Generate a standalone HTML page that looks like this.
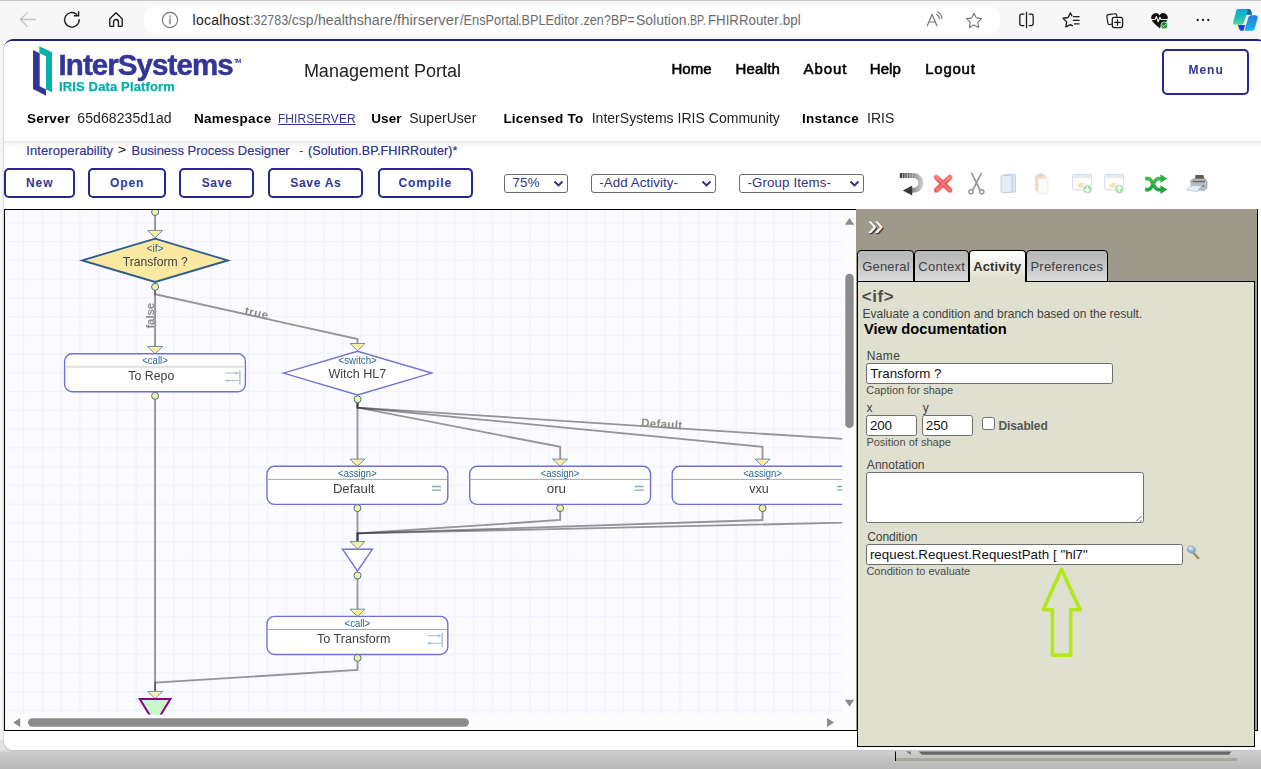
<!DOCTYPE html>
<html>
<head>
<meta charset="utf-8">
<title>Business Process Designer</title>
<style>
*{box-sizing:border-box;margin:0;padding:0}
html,body{width:1261px;height:769px;overflow:hidden}
body{font-family:"Liberation Sans",sans-serif;background:#f7f7f7;position:relative;color:#000}
.t{position:absolute;white-space:nowrap;line-height:1}
#chrome{position:absolute;left:0;top:0;width:1261px;height:40px;background:#f7f7f7}
#chrome i{position:absolute;left:0;top:0;width:1261px;height:1px;background:#c6c6c6}
#urlbar{position:absolute;left:144px;top:5px;width:856px;height:30px;background:#fff;border-radius:15px}
#below{position:absolute;left:0;top:740px;width:1261px;height:29px;background:linear-gradient(#e4e4e4 0,#e4e4e4 9px,#cdcdcd 13px,#c4c4c4 18px,#b9b9b9 29px)}
#page{position:absolute;left:4px;top:39px;width:1262px;height:710.5px;background:#fff;border-top:2px solid #1f1f7f;border-radius:9px;overflow:hidden}
#pageshadow{position:absolute;left:4px;top:41px;width:1262px;height:708.5px;border-radius:9px;box-shadow:0 0 3px rgba(0,0,0,.28)}
#in{position:absolute;left:-4px;top:-41px;width:1261px;height:769px}
#hdr{position:absolute;left:0;top:40px;width:1270px;height:101px;background:#fff;box-shadow:0 2px 5px rgba(0,0,0,.115)}
.btn{position:absolute;top:168px;height:30px;border:2px solid #27278d;border-radius:5px;background:#fff}
.sel{position:absolute;top:174px;height:19px;border:1px solid #6a6a6a;border-radius:3px;background:#fff}
#canvas{position:absolute;left:4px;top:209px;width:852px;height:522px;border:1px solid #000;border-right:none;background:#fcfcfc;overflow:hidden}
#panel{position:absolute;left:856px;top:209px;width:402px;height:522px;background:#9d9a8c;border-right:1px solid #000;border-bottom:1px solid #000}
#pbody{position:absolute;left:857px;top:281px;width:398px;height:466px;background:#e0e0d0;border:1px solid #000}
.tab{position:absolute;top:250px;height:32px;border:1px solid #000;border-radius:4px 4px 0 0;background:linear-gradient(#b6b6b6 0,#c3c3c3 45%,#dcdcdc 100%)}
.tab.on{background:linear-gradient(#ffffff 0,#f4f4ee 35%,#e0e0d0 90%);border-bottom:none}
.inp{position:absolute;background:#fff;border:1px solid #6e6e6e;border-radius:2.5px}
</style>
</head>
<body>
<div id="below"></div>
<svg width="1261" height="29" viewBox="0 740 1261 29" style="position:absolute;left:0;top:740px">
<rect x="895" y="751.500" width="1" height="9.500" fill="#0a0a0a"/>
<polygon points="906,751.500 911,751.500 911,755" fill="#8a7a6a"/>
<polygon points="918.500,751.500 1231.500,751.500 1229,754.800 922,754.800" fill="#676767"/>
<rect x="896" y="758" width="341" height="3" fill="#a9a99b"/>
</svg>
<div id="pageshadow"></div>
<div id="chrome">
<i></i><div id="urlbar"></div>
<svg width="1261" height="40" viewBox="0 0 1261 40" style="position:absolute;left:0;top:0" fill="none" stroke-linecap="round" stroke-linejoin="round">
<!-- back (disabled) -->
<path d="M35.5 19.5H20.8M27.3 12.6l-6.9 6.9 6.9 6.9" stroke="#c3c3c3" stroke-width="1.3"/>
<!-- refresh -->
<path d="M79.2 19.8a7.3 7.3 0 1 1-2.6-5.6" stroke="#1b1b1b" stroke-width="1.4"/>
<path d="M78.6 11.6v4.2h-4.2" stroke="#1b1b1b" stroke-width="1.4"/>
<!-- home -->
<path d="M109.8 18.700l6.200-6 6.200 6v6.700c0 .5-.4.9-.9.9h-2.900v-4.400a2.400 2.400 0 0 0-4.800 0v4.400h-2.900c-.5 0-.9-.4-.9-.9z" stroke="#1b1b1b" stroke-width="1.350"/>
<!-- info -->
<circle cx="170" cy="20" r="7.6" stroke="#6f6f6f" stroke-width="1.1"/>
<path d="M170 18.600v5.200" stroke="#6f6f6f" stroke-width="1.3"/>
<circle cx="170" cy="16.1" r=".85" fill="#6f6f6f"/>
<!-- read aloud -->
<path d="M927.300 25.800l4.800-11.500 4.800 11.500M929 22h6.200" stroke="#767676" stroke-width="1.2"/>
<path d="M936.600 14.300a5.200 5.200 0 0 1 2.700 4.500M937.800 11.900a7.800 7.800 0 0 1 4.100 6.800" stroke="#767676" stroke-width="1.1"/>
<!-- star -->
<path d="M974 13.200l2.300 4.700 5.200.750-3.750 3.650.9 5.150-4.650-2.450-4.650 2.450.9-5.150-3.750-3.650 5.200-.750z" stroke="#767676" stroke-width="1.150"/>
<!-- split screen -->
<path d="M1023.800 14.200h-2.200a1.800 1.800 0 0 0-1.800 1.800v7.800a1.800 1.800 0 0 0 1.800 1.800h2.200M1029.200 14.200h2.200a1.800 1.800 0 0 1 1.800 1.800v7.800a1.800 1.800 0 0 1-1.800 1.800h-2.200M1026.500 12.400v15.200" stroke="#1b1b1b" stroke-width="1.300"/>
<!-- favorites -->
<path d="M1071.800 15.800l-1.400-3-2.300 4.700-5.100.750 3.700 3.600-.9 5.100 4.600-2.400 2 1.050" stroke="#1b1b1b" stroke-width="1.300"/>
<path d="M1073.400 16.700h5.700M1073.400 20.300h5.700M1074.400 23.900h4.700" stroke="#1b1b1b" stroke-width="1.200"/>
<!-- collections -->
<path d="M1111.500 24.200l-1.600.3a1.800 1.800 0 0 1-2.100-1.500l-.9-6.300a1.800 1.800 0 0 1 1.500-2.100l6.300-.9a1.800 1.800 0 0 1 2.100 1.500l.100 1.200" stroke="#1b1b1b" stroke-width="1.200"/>
<rect x="1112.300" y="17.300" width="10.300" height="10.300" rx="2" stroke="#1b1b1b" stroke-width="1.300"/>
<path d="M1117.450 19.700v5.500M1114.700 22.450h5.500" stroke="#1b1b1b" stroke-width="1.300"/>
<!-- heart -->
<path d="M1159.500 27.600c-3.400-2.700-8-5.700-8-10a4.300 4.300 0 0 1 8-2.100 4.300 4.300 0 0 1 8 2.100c0 4.300-4.600 7.300-8 10z" fill="#111" stroke="#111" stroke-width=".6"/>
<path d="M1151.200 19.400h3.900l1.300-2.900 1.800 5.300 1.700-4.500 1 2.100h6.700" stroke="#fff" stroke-width="1.050"/>
<circle cx="1164.300" cy="25.300" r="3.500" fill="#128a24" stroke="#f7f7f7" stroke-width=".7"/>
<path d="M1162.600 25.400l1.200 1.200 2.200-2.300" stroke="#fff" stroke-width=".9"/>
<!-- more -->
<circle cx="1197.700" cy="20" r="1.150" fill="#1b1b1b"/><circle cx="1203" cy="20" r="1.150" fill="#1b1b1b"/><circle cx="1208.300" cy="20" r="1.150" fill="#1b1b1b"/>
<!-- copilot -->
<defs>
<linearGradient id="cpa" x1="0" y1="9" x2="0" y2="24.600" gradientUnits="userSpaceOnUse"><stop offset="0" stop-color="#10a3d8"/><stop offset=".5" stop-color="#1fb9bf"/><stop offset="1" stop-color="#52da8b"/></linearGradient>
<linearGradient id="cpb" x1="0" y1="15.200" x2="0" y2="30.700" gradientUnits="userSpaceOnUse"><stop offset="0" stop-color="#2b7be0"/><stop offset=".6" stop-color="#1f9aea"/><stop offset="1" stop-color="#17b8f0"/></linearGradient>
</defs>
<path d="M1245.200 9.100h3.600c1.400 0 2.200.700 2.500 2l.800 3.600h-7.600z" fill="#0e6d94" stroke="none"/>
<path d="M1237.800 25h7.200l-1.500 5.700h-1.700c-1.300 0-2.100-.600-2.500-1.800z" fill="#1c40d2" stroke="none"/>
<path d="M1238.200 9h7.300c1.800 0 2.500 1.200 2 2.900l-3.500 10.600c-.500 1.500-1.500 2.200-3 2.200h-5.300c-2 0-2.900-1.300-2.400-3.300l2.700-10c.400-1.600 1.100-2.400 2.200-2.400z" fill="url(#cpa)" stroke="none"/>
<path d="M1252 30.700h-7.700l4-13.200c.500-1.600 1.300-2.300 2.800-2.300h4.200c2 0 2.800 1.300 2.300 3.200l-2.800 9.900c-.500 1.600-1.400 2.400-2.800 2.400z" fill="url(#cpb)" stroke="none"/>
</svg>
<div class="t" id="t0" style="left:192.57px;top:12px;line-height:16px;font-size:14px;color:#1b1b1b;letter-spacing:0.224px;">localhost</div><div class="t" id="t1" style="left:249.57px;top:12px;line-height:16px;font-size:14px;color:#6b6b6b;transform:scaleX(0.8910);transform-origin:0 0;">:32783</div><div class="t" id="t2" style="left:288.37px;top:12px;line-height:16px;font-size:14px;color:#6b6b6b;transform:scaleX(0.9950);transform-origin:0 0;">/csp</div><div class="t" id="t3" style="left:314.07px;top:12px;line-height:16px;font-size:14px;color:#6b6b6b;transform:scaleX(1.0168);transform-origin:0 0;">/healthshare</div><div class="t" id="t4" style="left:393.07px;top:12px;line-height:16px;font-size:14px;color:#6b6b6b;transform:scaleX(1.0599);transform-origin:0 0;">/fhirserver</div><div class="t" id="t5" style="left:459.67px;top:12px;line-height:16px;font-size:14px;color:#6b6b6b;transform:scaleX(0.9112);transform-origin:0 0;">/EnsPortal</div><div class="t" id="t6" style="left:518.17px;top:12px;line-height:16px;font-size:14px;color:#6b6b6b;transform:scaleX(0.9077);transform-origin:0 0;">.BPLEditor</div><div class="t" id="t7" style="left:579.57px;top:12px;line-height:16px;font-size:14px;color:#6b6b6b;transform:scaleX(0.9014);transform-origin:0 0;">.zen</div><div class="t" id="t8" style="left:604.07px;top:12px;line-height:16px;font-size:14px;color:#6b6b6b;transform:scaleX(0.8880);transform-origin:0 0;">?BP=</div><div class="t" id="t9" style="left:635.97px;top:12px;line-height:16px;font-size:14px;color:#6b6b6b;transform:scaleX(0.9974);transform-origin:0 0;">Solution</div><div class="t" id="t10" style="left:687.37px;top:12px;line-height:16px;font-size:14px;color:#6b6b6b;transform:scaleX(0.7609);transform-origin:0 0;">.BP.</div><div class="t" id="t11" style="left:707.57px;top:12px;line-height:16px;font-size:14px;color:#6b6b6b;transform:scaleX(0.9474);transform-origin:0 0;">FHIRRouter</div><div class="t" id="t12" style="left:778.97px;top:12px;line-height:16px;font-size:14px;color:#6b6b6b;transform:scaleX(0.9593);transform-origin:0 0;">.bpl</div>
</div>
<div id="page"><div id="in">
<div id="hdr"></div>
<svg width="30" height="56" viewBox="30 44 30 56" style="position:absolute;left:30px;top:44px">
<polygon points="33,50 39.700,53.300 39.700,86.200 46,89.400 46,95.700 33,89" fill="#333695"/>
<polygon points="39.300,46.200 52,52.200 52,92.200 46,89.400 46,56.300 39.300,52.900" fill="#00b2a9"/>
</svg>
<div style="position:absolute;left:1162px;top:49px;width:87px;height:46px;border:2px solid #27278d;border-radius:5px"></div>
<div style="position:absolute;left:0;top:0;width:1261px;height:141px;will-change:transform">
<div class="t" id="t13" style="left:58.57px;top:48px;line-height:33px;font-size:29.5px;color:#333695;font-weight:bold;letter-spacing:-0.931px;-webkit-text-stroke:.5px #333695;">InterSystems</div>
<div class="t" id="t14" style="left:234.33px;top:58px;line-height:6px;font-size:6px;color:#333695;font-weight:bold;letter-spacing:-1.732px;">TM</div>
<div class="t" id="t15" style="left:59.02px;top:79px;line-height:15px;font-size:13px;color:#00b2a9;font-weight:bold;letter-spacing:0.138px;-webkit-text-stroke:.25px #00b2a9;">IRIS Data Platform</div>
<div class="t" id="t16" style="left:303.89px;top:61px;line-height:20px;font-size:18px;color:#222;">Management Portal</div>
<div class="t" id="t17" style="left:671.43px;top:60px;line-height:17px;font-size:15px;color:#000;letter-spacing:0.045px;-webkit-text-stroke:.55px #000;">Home</div>
<div class="t" id="t18" style="left:735.53px;top:60px;line-height:17px;font-size:15px;color:#000;letter-spacing:0.198px;-webkit-text-stroke:.55px #000;">Health</div>
<div class="t" id="t19" style="left:803.62px;top:60px;line-height:17px;font-size:15px;color:#000;letter-spacing:0.887px;-webkit-text-stroke:.55px #000;">About</div>
<div class="t" id="t20" style="left:869.83px;top:60px;line-height:17px;font-size:15px;color:#000;letter-spacing:0.030px;-webkit-text-stroke:.55px #000;">Help</div>
<div class="t" id="t21" style="left:925.23px;top:60px;line-height:17px;font-size:15px;color:#000;letter-spacing:0.752px;-webkit-text-stroke:.55px #000;">Logout</div>
<div class="t" id="t22" style="left:1188.46px;top:63px;line-height:14px;font-size:12px;color:#333695;font-weight:bold;letter-spacing:0.979px;">Menu</div>
<div class="t" id="t23" style="left:26.99px;top:111px;line-height:15px;font-size:13.5px;color:#000;font-weight:bold;letter-spacing:0.194px;">Server</div>
<div class="t" id="t24" style="left:77.37px;top:110px;line-height:16px;font-size:14px;color:#222;letter-spacing:0.075px;">65d68235d1ad</div>
<div class="t" id="t25" style="left:193.89px;top:111px;line-height:15px;font-size:13.5px;color:#000;font-weight:bold;letter-spacing:0.282px;">Namespace</div>
<div class="t" id="t26" style="left:277.96px;top:112px;line-height:14px;font-size:12px;color:#333695;letter-spacing:0.060px;text-decoration:underline;">FHIRSERVER</div>
<div class="t" id="t27" style="left:371.19px;top:111px;line-height:15px;font-size:13.5px;color:#000;font-weight:bold;letter-spacing:0.128px;">User</div>
<div class="t" id="t28" style="left:409.17px;top:110px;line-height:16px;font-size:14px;color:#222;letter-spacing:0.030px;">SuperUser</div>
<div class="t" id="t29" style="left:503.39px;top:111px;line-height:15px;font-size:13.5px;color:#000;font-weight:bold;letter-spacing:0.205px;">Licensed To</div>
<div class="t" id="t30" style="left:591.67px;top:110px;line-height:16px;font-size:14px;color:#222;letter-spacing:0.025px;">InterSystems IRIS Community</div>
<div class="t" id="t31" style="left:801.89px;top:111px;line-height:15px;font-size:13.5px;color:#000;font-weight:bold;letter-spacing:0.319px;">Instance</div>
<div class="t" id="t32" style="left:866.97px;top:110px;line-height:16px;font-size:14px;color:#222;letter-spacing:0.042px;">IRIS</div>
</div>
<div class="t" id="t33" style="left:26.21px;top:143px;line-height:15px;font-size:13px;color:#333695;letter-spacing:0.099px;-webkit-text-stroke:.2px #333695;">Interoperability</div>
<div class="t" id="t34" style="left:117.80px;top:141px;line-height:16px;font-size:14.5px;color:#222;transform:scaleY(.88);transform-origin:0 70%;">&gt;</div>
<div class="t" id="t35" style="left:131.51px;top:143px;line-height:15px;font-size:13px;color:#333695;letter-spacing:-0.033px;-webkit-text-stroke:.2px #333695;">Business Process Designer</div>
<div class="t" id="t36" style="left:299.00px;top:143px;line-height:15px;font-size:13px;color:#333695;">-</div>
<div class="t" id="t37" style="left:307.94px;top:144px;line-height:14px;font-size:12.5px;color:#333695;letter-spacing:0.098px;text-shadow:0 0 .6px rgba(51,54,149,.7);">(Solution.BP.FHIRRouter)*</div>
<div class="btn" style="left:4.0px;width:71.0px"></div><div class="t" id="t38" style="left:25.96px;top:176px;line-height:14px;font-size:12px;color:#333695;font-weight:bold;letter-spacing:0.946px;">New</div><div class="btn" style="left:88.0px;width:77.6px"></div><div class="t" id="t39" style="left:110.06px;top:176px;line-height:14px;font-size:12px;color:#333695;font-weight:bold;letter-spacing:0.869px;">Open</div><div class="btn" style="left:179.0px;width:74.6px"></div><div class="t" id="t40" style="left:201.76px;top:176px;line-height:14px;font-size:12px;color:#333695;font-weight:bold;letter-spacing:0.616px;">Save</div><div class="btn" style="left:268.1px;width:94.7px"></div><div class="t" id="t41" style="left:290.16px;top:176px;line-height:14px;font-size:12px;color:#333695;font-weight:bold;letter-spacing:0.719px;">Save As</div><div class="btn" style="left:377.5px;width:95.2px"></div><div class="t" id="t42" style="left:398.46px;top:176px;line-height:14px;font-size:12px;color:#333695;font-weight:bold;letter-spacing:0.889px;">Compile</div>
<div class="sel" style="left:504.0px;width:63.6px"><svg width="11" height="8" viewBox="0 0 11 8" style="position:absolute;right:3px;top:5px"><path d="M1.500 1.500l4 4 4-4" fill="none" stroke="#2f2f80" stroke-width="1.900"/></svg></div><div class="t" id="t43" style="left:512.40px;top:175px;line-height:15px;font-size:13.33px;color:#33337e;letter-spacing:0.256px;">75%</div><div class="sel" style="left:591.4px;width:124.5px"><svg width="11" height="8" viewBox="0 0 11 8" style="position:absolute;right:3px;top:5px"><path d="M1.500 1.500l4 4 4-4" fill="none" stroke="#2f2f80" stroke-width="1.900"/></svg></div><div class="t" id="t44" style="left:599.30px;top:175px;line-height:15px;font-size:13.33px;color:#33337e;letter-spacing:0.063px;">-Add Activity-</div><div class="sel" style="left:739.0px;width:124.8px"><svg width="11" height="8" viewBox="0 0 11 8" style="position:absolute;right:3px;top:5px"><path d="M1.500 1.500l4 4 4-4" fill="none" stroke="#2f2f80" stroke-width="1.900"/></svg></div><div class="t" id="t45" style="left:747.40px;top:175px;line-height:15px;font-size:13.33px;color:#33337e;letter-spacing:0.115px;">-Group Items-</div>
<svg width="330" height="30" viewBox="890 168 330 30" style="position:absolute;left:890px;top:168px" fill="none">
<defs>
<linearGradient id="ug" x1="899" y1="0" x2="922" y2="0" gradientUnits="userSpaceOnUse"><stop offset="0" stop-color="#3e3e3e"/><stop offset=".55" stop-color="#8a8a8a"/><stop offset="1" stop-color="#c9c9c9"/></linearGradient>
<linearGradient id="ug2" x1="903" y1="0" x2="920" y2="0" gradientUnits="userSpaceOnUse"><stop offset="0" stop-color="#3a3a3a"/><stop offset="1" stop-color="#b5b5b5"/></linearGradient>
<linearGradient id="rx" x1="0" y1="174" x2="0" y2="193" gradientUnits="userSpaceOnUse"><stop offset="0" stop-color="#f88"/><stop offset=".5" stop-color="#ee4f4f"/><stop offset="1" stop-color="#f26a6a"/></linearGradient>
<linearGradient id="gs" x1="0" y1="174" x2="0" y2="193" gradientUnits="userSpaceOnUse"><stop offset="0" stop-color="#48c25c"/><stop offset="1" stop-color="#1f9e3a"/></linearGradient>
</defs>
<!-- undo -->
<path d="M899.800 175.600H913.500A7.300 7.300 0 0 1 913.500 190.300H911" stroke="url(#ug)" stroke-width="5"/>
<path d="M902.500 173.200v4.800M905 173.200v4.800M907.500 173.200v4.800M910 173.200v4.800M912.500 173.200v4.800" stroke="#d5d5d5" stroke-width=".8" opacity=".8"/>
<polygon points="902.800,190.500 912.200,185.600 912.200,195.400" fill="#3a3a3a"/>
<!-- delete X -->
<path d="M936.400 177.300L949.800 190.100M949.800 177.300L936.400 190.100" stroke="url(#rx)" stroke-width="5.200" stroke-linecap="round"/>
<path d="M936.400 177.300L949.800 190.100M949.800 177.300L936.400 190.100" stroke="#ffb0b0" stroke-width="1.200" stroke-linecap="round" opacity=".55"/>
<!-- scissors -->
<path d="M971.700 173.400L980 189.800M981.200 173.400L972.900 189.800" stroke="#8d9699" stroke-width="1.600" stroke-linecap="round"/>
<circle cx="971" cy="191.800" r="2.100" stroke="#8d9699" stroke-width="1.400"/><circle cx="981.800" cy="191.800" r="2.100" stroke="#8d9699" stroke-width="1.400"/>
<!-- copy -->
<path d="M1004 174.800l10.600-.6 1 .8v17l-10.600.6z" fill="#dbe6f0" stroke="#b9c9d8" stroke-width=".8"/>
<path d="M1001 175.800l9.800-.6 1.200.8v16.200l-9.800.6-1.200-.8z" fill="#e4edf5" stroke="#b9c9d8" stroke-width=".8"/>
<!-- paste -->
<rect x="1035.700" y="175.200" width="9.500" height="15.500" rx="1" fill="#f0dfbd" stroke="#e3cfa6" stroke-width=".7"/>
<rect x="1038.200" y="173.600" width="4.500" height="3" rx="1" fill="#d4d4d4"/>
<rect x="1038.400" y="178.600" width="9.600" height="15.200" fill="#fbfbfb" stroke="#e6e6e6" stroke-width=".7"/>
<!-- window down -->
<g opacity=".55">
<rect x="1072.600" y="174.400" width="19" height="15.500" rx="1.500" fill="#fdfdfd" stroke="#aebfd0" stroke-width="1"/>
<rect x="1073.100" y="174.900" width="18" height="3.200" fill="#cfdbe8"/>
<path d="M1077 185l3.500-2.600 4 1.400-1.300 3.400-3.800.8z" fill="#f3c98a"/>
<circle cx="1087.400" cy="189.200" r="4.600" fill="#5cc06a" stroke="#fff" stroke-width=".8"/>
<path d="M1087.400 186.300v4.600M1085.200 189.300l2.200 2.400 2.200-2.400" stroke="#fff" stroke-width="1.500"/>
<rect x="1104.700" y="174.400" width="19" height="15.500" rx="1.500" fill="#fdfdfd" stroke="#aebfd0" stroke-width="1"/>
<rect x="1105.200" y="174.900" width="18" height="3.200" fill="#cfdbe8"/>
<path d="M1109 185l3.500-2.600 4 1.400-1.300 3.400-3.800.8z" fill="#f3c98a"/>
<circle cx="1119.300" cy="189.200" r="4.600" fill="#5cc06a" stroke="#fff" stroke-width=".8"/>
<path d="M1119.300 192v-4.600M1117.100 189.100l2.200-2.400 2.200 2.400" stroke="#fff" stroke-width="1.500"/>
</g>
<!-- shuffle -->
<path d="M1145.200 178.600h3.300c3.800 0 5.200 11 10 11h3M1145.200 189.600h3.300c3.800 0 5.200-11 10-11h3" stroke="url(#gs)" stroke-width="3.600"/>
<polygon points="1160.500,174.300 1167.200,178.600 1160.500,182.900" fill="#2fae49"/><polygon points="1160.500,185.300 1167.200,189.600 1160.500,193.900" fill="#239f3d"/>
<!-- printer -->
<path d="M1195.500 175h8l1.200 6h-10z" fill="#5a5a5a"/>
<path d="M1190.500 180.500l3.500-1.800h11l2 2.300v7l-2.500 2.200h-12.500z" fill="#b9bcc0" stroke="#8a8d91" stroke-width=".6"/>
<path d="M1192.500 181.500h12.500" stroke="#6a6a6a" stroke-width="1.400"/>
<path d="M1186.300 189.800l5.200-4.200h9.800l-3.800 6.200z" fill="#dff0f8" stroke="#9eb5c2" stroke-width=".6"/>
<circle cx="1203.300" cy="186" r=".9" fill="#3a6fd8"/>
</svg>

<div id="canvas"><svg width="1261" height="769" viewBox="0 0 1261 769" style="position:absolute;left:-5px;top:-210px;will-change:transform">
<defs><pattern id="grid" width="18.750" height="18.750" patternUnits="userSpaceOnUse" patternTransform="translate(4.350 72.300)"><path d="M0 .5H18.750M.5 0V18.750" stroke="#f1f1ff" stroke-width="1.250" fill="none"/></pattern><clipPath id="vp"><rect x="5" y="210" width="837.500" height="504.800"/></clipPath></defs>
<rect x="5" y="210" width="837.500" height="504.800" fill="#fafaff"/>
<rect x="5" y="210" width="837.500" height="504.800" fill="url(#grid)"/>
<g clip-path="url(#vp)" font-family="Liberation Sans, sans-serif">
<polyline points="155.1,212.0 155.1,231.0" fill="none" stroke="#303030" stroke-opacity=".5" stroke-width="1.850" stroke-linejoin="miter"/>
<polyline points="155.1,287.0 155.1,347.0" fill="none" stroke="#303030" stroke-opacity=".5" stroke-width="1.850" stroke-linejoin="miter"/>
<polyline points="155.1,287.0 155.1,294.2 357.5,339.0 357.5,344.0" fill="none" stroke="#303030" stroke-opacity=".5" stroke-width="1.850" stroke-linejoin="miter"/>
<polyline points="155.1,396.0 155.1,692.0" fill="none" stroke="#303030" stroke-opacity=".5" stroke-width="1.850" stroke-linejoin="miter"/>
<polyline points="357.5,399.5 357.5,460.0" fill="none" stroke="#303030" stroke-opacity=".5" stroke-width="1.850" stroke-linejoin="miter"/>
<polyline points="357.5,399.5 357.5,407.6 560.2,446.8 560.2,460.0" fill="none" stroke="#303030" stroke-opacity=".5" stroke-width="1.850" stroke-linejoin="miter"/>
<polyline points="357.5,399.5 357.5,407.6 762.5,446.8 762.5,460.0" fill="none" stroke="#303030" stroke-opacity=".5" stroke-width="1.850" stroke-linejoin="miter"/>
<polyline points="357.5,399.5 357.5,407.6 965.0,446.8 965.0,460.0" fill="none" stroke="#303030" stroke-opacity=".5" stroke-width="1.850" stroke-linejoin="miter"/>
<polyline points="357.5,508.0 357.5,542.0" fill="none" stroke="#303030" stroke-opacity=".5" stroke-width="1.850" stroke-linejoin="miter"/>
<polyline points="560.2,508.0 560.2,520.0 357.5,533.4 357.5,542.0" fill="none" stroke="#303030" stroke-opacity=".5" stroke-width="1.850" stroke-linejoin="miter"/>
<polyline points="762.5,508.0 762.5,520.0 357.5,533.4 357.5,542.0" fill="none" stroke="#303030" stroke-opacity=".5" stroke-width="1.850" stroke-linejoin="miter"/>
<polyline points="965.0,508.0 965.0,520.0 357.5,533.4 357.5,542.0" fill="none" stroke="#303030" stroke-opacity=".5" stroke-width="1.850" stroke-linejoin="miter"/>
<polyline points="357.5,575.5 357.5,610.0" fill="none" stroke="#303030" stroke-opacity=".5" stroke-width="1.850" stroke-linejoin="miter"/>
<polyline points="357.5,658.0 357.5,670.0 155.1,682.7 155.1,692.0" fill="none" stroke="#303030" stroke-opacity=".5" stroke-width="1.850" stroke-linejoin="miter"/>
<g font-weight="bold" fill="#8a8a8a" font-size="11.500">
<text transform="translate(153.800 328.600) rotate(-90)" textLength="25.800" lengthAdjust="spacing">false</text>
<text transform="translate(244.200 314.200) rotate(12.200)" textLength="23.500" lengthAdjust="spacing">true</text>
<text transform="translate(640.900 426.600) rotate(3.700)" textLength="41" lengthAdjust="spacing">Default</text>
</g>
<circle cx="155.1" cy="212.0" r="3.500" fill="#fdeea3" stroke="#3f7299" stroke-width="1"/>
<polygon points="147.6,230.4 162.6,230.4 155.1,237.6" fill="#fdeea3" stroke="#6a93b2" stroke-width="1"/>
<polygon points="82.300,260.400 155.100,238.700 227.800,260.400 155.100,282" fill="#fbe9a2" stroke="#2b5c8c" stroke-width="1.900" stroke-linejoin="miter"/>
<text x="155.0" y="251.7" font-size="10.3" fill="#23679a" text-anchor="middle" textLength="17.2" lengthAdjust="spacingAndGlyphs">&lt;if&gt;</text>
<text x="155.3" y="265.7" font-size="12" fill="#404040" text-anchor="middle" textLength="65.2" lengthAdjust="spacingAndGlyphs">Transform ?</text>
<circle cx="155.1" cy="286.9" r="3.500" fill="#fdeea3" stroke="#3f7299" stroke-width="1"/>
<polygon points="147.6,346.5 162.6,346.5 155.1,353.7" fill="#fdeea3" stroke="#6a93b2" stroke-width="1"/>
<rect x="64.6" y="353.7" width="180.8" height="38.1" rx="7.500" fill="#fff" stroke="#7171d4" stroke-width="1.400"/><line x1="65.3" y1="366.8" x2="244.7" y2="366.8" stroke="#dedede" stroke-width="1.9"/><text x="155.0" y="364.1" font-size="10.3" fill="#23679a" text-anchor="middle" textLength="25.6" lengthAdjust="spacingAndGlyphs">&lt;call&gt;</text><text x="151.3" y="380.3" font-size="12" fill="#404040" text-anchor="middle" textLength="46.0" lengthAdjust="spacingAndGlyphs">To Repo</text><g stroke="#9fbdd3" stroke-width="1" fill="#9fbdd3"><path d="M225.2 373.0h13.500M225.2 380.5h13.500" fill="none"/><path d="M239.9 370.4v14" stroke-width="1.300" fill="none"/><path d="M238.7 373.0l-3-1.600v3.200z" stroke="none"/><path d="M225.2 380.5l3-1.600v3.200z" stroke="none"/></g>
<circle cx="155.1" cy="395.8" r="3.500" fill="#fdeea3" stroke="#3f7299" stroke-width="1"/>
<polygon points="350.0,343.5 365.0,343.5 357.5,350.7" fill="#fdeea3" stroke="#6a93b2" stroke-width="1"/>
<polygon points="283.400,373.100 357.500,351.300 431.700,373.100 357.500,394.900" fill="#fff" stroke="#7171d4" stroke-width="1.400"/>
<text x="357.6" y="364.0" font-size="10.3" fill="#23679a" text-anchor="middle" textLength="38.2" lengthAdjust="spacingAndGlyphs">&lt;switch&gt;</text>
<text x="357.4" y="377.8" font-size="12" fill="#404040" text-anchor="middle" textLength="57.9" lengthAdjust="spacingAndGlyphs">Witch HL7</text>
<circle cx="357.5" cy="399.3" r="3.500" fill="#fdeea3" stroke="#3f7299" stroke-width="1"/>
<polygon points="349.9,459.1 364.9,459.1 357.4,466.3" fill="#fdeea3" stroke="#6a93b2" stroke-width="1"/>
<rect x="267.0" y="466.3" width="180.8" height="38.1" rx="7.500" fill="#fff" stroke="#7171d4" stroke-width="1.400"/><line x1="267.7" y1="479.4" x2="447.1" y2="479.4" stroke="#a8a8a8" stroke-width="1"/><text x="357.4" y="476.7" font-size="10.3" fill="#23679a" text-anchor="middle" textLength="38.6" lengthAdjust="spacingAndGlyphs">&lt;assign&gt;</text><text x="353.7" y="492.9" font-size="12" fill="#404040" text-anchor="middle" textLength="41.6" lengthAdjust="spacingAndGlyphs">Default</text><path d="M432.0 486.5h9M432.0 490.1h9" stroke="#7fa9c4" stroke-width="1.300" fill="none"/>
<circle cx="357.4" cy="508.1" r="3.500" fill="#fdeea3" stroke="#3f7299" stroke-width="1"/>
<polygon points="552.6,459.1 567.6,459.1 560.1,466.3" fill="#fdeea3" stroke="#6a93b2" stroke-width="1"/>
<rect x="469.7" y="466.3" width="180.8" height="38.1" rx="7.500" fill="#fff" stroke="#7171d4" stroke-width="1.400"/><line x1="470.4" y1="479.4" x2="649.8" y2="479.4" stroke="#a8a8a8" stroke-width="1"/><text x="560.1" y="476.7" font-size="10.3" fill="#23679a" text-anchor="middle" textLength="38.6" lengthAdjust="spacingAndGlyphs">&lt;assign&gt;</text><text x="556.4" y="492.9" font-size="12" fill="#404040" text-anchor="middle" textLength="19.4" lengthAdjust="spacingAndGlyphs">oru</text><path d="M634.7 486.5h9M634.7 490.1h9" stroke="#7fa9c4" stroke-width="1.300" fill="none"/>
<circle cx="560.1" cy="508.1" r="3.500" fill="#fdeea3" stroke="#3f7299" stroke-width="1"/>
<polygon points="755.1,459.1 770.1,459.1 762.6,466.3" fill="#fdeea3" stroke="#6a93b2" stroke-width="1"/>
<rect x="672.2" y="466.3" width="180.8" height="38.1" rx="7.500" fill="#fff" stroke="#7171d4" stroke-width="1.400"/><line x1="672.9" y1="479.4" x2="852.3" y2="479.4" stroke="#a8a8a8" stroke-width="1"/><text x="762.6" y="476.7" font-size="10.3" fill="#23679a" text-anchor="middle" textLength="38.6" lengthAdjust="spacingAndGlyphs">&lt;assign&gt;</text><text x="758.9" y="492.9" font-size="12" fill="#404040" text-anchor="middle" textLength="19.4" lengthAdjust="spacingAndGlyphs">vxu</text><path d="M837.2 486.5h9M837.2 490.1h9" stroke="#7fa9c4" stroke-width="1.300" fill="none"/>
<circle cx="762.6" cy="508.1" r="3.500" fill="#fdeea3" stroke="#3f7299" stroke-width="1"/>
<polygon points="957.5,459.1 972.5,459.1 965.0,466.3" fill="#fdeea3" stroke="#6a93b2" stroke-width="1"/>
<rect x="874.6" y="466.3" width="180.8" height="38.1" rx="7.500" fill="#fff" stroke="#7171d4" stroke-width="1.400"/><line x1="875.3" y1="479.4" x2="1054.7" y2="479.4" stroke="#a8a8a8" stroke-width="1"/><text x="965.0" y="476.7" font-size="10.3" fill="#23679a" text-anchor="middle" textLength="38.6" lengthAdjust="spacingAndGlyphs">&lt;assign&gt;</text><text x="961.3" y="492.9" font-size="12" fill="#404040" text-anchor="middle">x</text><path d="M1039.6 486.5h9M1039.6 490.1h9" stroke="#7fa9c4" stroke-width="1.300" fill="none"/>
<circle cx="965.0" cy="508.1" r="3.500" fill="#fdeea3" stroke="#3f7299" stroke-width="1"/>
<polygon points="350.0,541.6 365.0,541.6 357.5,548.8" fill="#fdeea3" stroke="#6a93b2" stroke-width="1"/>
<polygon points="342.600,549.300 372.400,549.300 357.500,570.900" fill="#fff" stroke="#7171d4" stroke-width="1.400"/>
<circle cx="357.5" cy="575.5" r="3.500" fill="#fdeea3" stroke="#3f7299" stroke-width="1"/>
<polygon points="350.0,609.2 365.0,609.2 357.5,616.4" fill="#fdeea3" stroke="#6a93b2" stroke-width="1"/>
<rect x="267.0" y="616.4" width="180.8" height="38.1" rx="7.500" fill="#fff" stroke="#7171d4" stroke-width="1.400"/><line x1="267.7" y1="629.5" x2="447.1" y2="629.5" stroke="#a8a8a8" stroke-width="1"/><text x="357.4" y="626.8" font-size="10.3" fill="#23679a" text-anchor="middle" textLength="25.6" lengthAdjust="spacingAndGlyphs">&lt;call&gt;</text><text x="353.7" y="643.0" font-size="12" fill="#404040" text-anchor="middle" textLength="73.4" lengthAdjust="spacingAndGlyphs">To Transform</text><g stroke="#9fbdd3" stroke-width="1" fill="#9fbdd3"><path d="M427.6 635.7h13.500M427.6 643.2h13.500" fill="none"/><path d="M442.3 633.1v14" stroke-width="1.300" fill="none"/><path d="M441.1 635.7l-3-1.600v3.200z" stroke="none"/><path d="M427.6 643.2l3-1.600v3.200z" stroke="none"/></g>
<circle cx="357.5" cy="657.9" r="3.500" fill="#fdeea3" stroke="#3f7299" stroke-width="1"/>
<polygon points="147.6,691.4 162.6,691.4 155.1,698.6" fill="#fdeea3" stroke="#6a93b2" stroke-width="1"/>
<polygon points="139.800,699 170.400,699 155.100,724" fill="#c9f9c9" stroke="#8b008b" stroke-width="2"/>
</g>
<rect x="842.500" y="210" width="14" height="521" fill="#fcfcfc"/><rect x="5" y="714.800" width="852" height="15.400" fill="#fcfcfc"/>
<rect x="845.300" y="273.800" width="8.400" height="154.300" rx="4.200" fill="#8b8b8b"/>
<rect x="28" y="718.300" width="441" height="8.400" rx="4.200" fill="#8b8b8b"/>
<polygon points="844.800,224.700 854.200,224.700 849.500,217.900" fill="#8b8b8b"/><polygon points="844.800,699.800 854.200,699.800 849.500,706.600" fill="#8b8b8b"/>
<polygon points="20.200,718 20.200,727 13.200,722.500" fill="#8b8b8b"/><polygon points="827,718 827,727 834,722.500" fill="#8b8b8b"/>
</svg></div>
<div id="panel"></div><div id="pbody"></div><div class="tab" style="left:857.0px;width:57.0px"></div><div class="tab" style="left:914.0px;width:55.0px"></div><div class="tab on" style="left:969.0px;width:57.0px"></div><div class="tab" style="left:1026.0px;width:81.5px"></div>
<div class="inp" style="left:866.0px;top:363.0px;width:247.0px;height:21.0px;"></div><div class="inp" style="left:866.0px;top:415.0px;width:51.0px;height:21.0px;"></div><div class="inp" style="left:922.0px;top:415.0px;width:51.0px;height:21.0px;"></div><div class="inp" style="left:982.0px;top:417.0px;width:13.0px;height:13.0px;border-radius:2.5px;"></div><div class="inp" style="left:866.0px;top:472.0px;width:278.0px;height:51.0px;"></div><div class="inp" style="left:866.0px;top:544.0px;width:317.0px;height:21.0px;"></div>
<div class="t" id="t46" style="left:867.40px;top:209px;line-height:32px;font-size:29px;color:#fff;text-shadow:1px 1px 1px #222;">&raquo;</div>
<div class="t" id="t47" style="left:862.21px;top:259px;line-height:15px;font-size:13px;color:#404040;letter-spacing:0.187px;">General</div>
<div class="t" id="t48" style="left:918.21px;top:259px;line-height:15px;font-size:13px;color:#404040;letter-spacing:0.310px;">Context</div>
<div class="t" id="t49" style="left:973.21px;top:259px;line-height:15px;font-size:13px;color:#333;font-weight:bold;letter-spacing:0.143px;">Activity</div>
<div class="t" id="t50" style="left:1030.41px;top:259px;line-height:15px;font-size:13px;color:#404040;letter-spacing:0.238px;">Preferences</div>
<div class="t" id="t51" style="left:861.74px;top:287px;line-height:19px;font-size:17px;color:#4d4d4d;font-weight:bold;letter-spacing:0.560px;">&lt;if&gt;</div>
<div class="t" id="t52" style="left:862.56px;top:307px;line-height:14px;font-size:12px;color:#404040;letter-spacing:-0.010px;">Evaluate a condition and branch based on the result.</div>
<div class="t" id="t53" style="left:863.94px;top:321px;line-height:16px;font-size:14.67px;color:#000;font-weight:bold;letter-spacing:0.034px;">View documentation</div>
<div class="t" id="t54" style="left:866.76px;top:349px;line-height:14px;font-size:12px;color:#404040;letter-spacing:0.355px;">Name</div>
<div class="t" id="t55" style="left:870.20px;top:366px;line-height:15px;font-size:13.33px;color:#111;letter-spacing:-0.016px;">Transform ?</div>
<div class="t" id="t56" style="left:866.30px;top:384px;line-height:12px;font-size:11px;color:#4a4a4a;">Caption for shape</div>
<div class="t" id="t57" style="left:866.60px;top:401px;line-height:14px;font-size:12px;color:#404040;">x</div>
<div class="t" id="t58" style="left:922.80px;top:401px;line-height:14px;font-size:12px;color:#404040;">y</div>
<div class="t" id="t59" style="left:869.90px;top:418px;line-height:15px;font-size:13.33px;color:#111;letter-spacing:-0.075px;">200</div>
<div class="t" id="t60" style="left:925.80px;top:418px;line-height:15px;font-size:13.33px;color:#111;letter-spacing:-0.075px;">250</div>
<div class="t" id="t61" style="left:998.46px;top:419px;line-height:14px;font-size:12px;color:#565656;font-weight:bold;letter-spacing:-0.105px;">Disabled</div>
<div class="t" id="t62" style="left:866.40px;top:436px;line-height:12px;font-size:11px;color:#4a4a4a;letter-spacing:0.006px;">Position of shape</div>
<div class="t" id="t63" style="left:866.86px;top:458px;line-height:14px;font-size:12px;color:#404040;letter-spacing:0.032px;">Annotation</div>
<div class="t" id="t64" style="left:867.16px;top:530px;line-height:14px;font-size:12px;color:#404040;letter-spacing:-0.053px;">Condition</div>
<div class="t" id="t65" style="left:869.90px;top:547px;line-height:15px;font-size:13.33px;color:#111;letter-spacing:0.029px;">request.Request.RequestPath [ "hl7"</div>
<div class="t" id="t66" style="left:866.40px;top:565px;line-height:12px;font-size:11px;color:#4a4a4a;letter-spacing:0.022px;">Condition to evaluate</div>
<svg width="1261" height="769" viewBox="0 0 1261 769" style="position:absolute;left:0;top:0;pointer-events:none" fill="none">
<path d="M1061.500 569.300L1080 609.700H1070.700V655.100H1052.400V609.700H1043.300Z" stroke="#b5e61d" stroke-width="3.600" stroke-linejoin="round"/>
<path d="M1141.500 520.800l-5.500-5.500M1141.500 516.600l-1.800-1.800" stroke="#666" stroke-width="1" transform="translate(0 0) scale(1 -1) translate(0 -1036.800)"/>
<defs><radialGradient id="mg" cx=".35" cy=".35" r=".8"><stop offset="0" stop-color="#eaf4fd"/><stop offset=".5" stop-color="#86bfec"/><stop offset="1" stop-color="#4f95d6"/></radialGradient></defs>
<path d="M1193.800 553.300L1198.200 558.100" stroke="#b08c4c" stroke-width="2.400" stroke-linecap="round"/>
<circle cx="1198.100" cy="558" r="1" fill="#8d989a"/>
<ellipse cx="1191.400" cy="549.600" rx="4.300" ry="3.500" transform="rotate(20 1191.400 549.600)" fill="url(#mg)" stroke="#a9a79a" stroke-width=".7"/>

</svg>
</div></div>
</body>
</html>
